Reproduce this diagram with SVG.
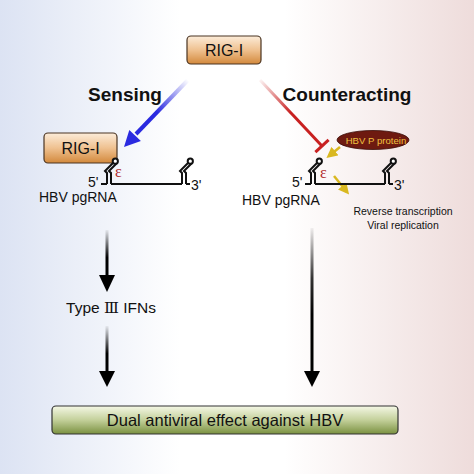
<svg xmlns="http://www.w3.org/2000/svg" width="474" height="474" viewBox="0 0 474 474">
<defs>
<linearGradient id="bg" x1="0" y1="0" x2="1" y2="0">
<stop offset="0" stop-color="#dce3f3"/>
<stop offset="0.38" stop-color="#ffffff"/>
<stop offset="0.6" stop-color="#ffffff"/>
<stop offset="1" stop-color="#eedcdb"/>
</linearGradient>
<linearGradient id="orange" x1="0" y1="0" x2="0" y2="1">
<stop offset="0" stop-color="#fcecd9"/>
<stop offset="0.5" stop-color="#efc190"/>
<stop offset="1" stop-color="#d3893c"/>
</linearGradient>
<linearGradient id="green" x1="0" y1="0" x2="0" y2="1">
<stop offset="0" stop-color="#f5f8e6"/>
<stop offset="0.5" stop-color="#c3d09a"/>
<stop offset="1" stop-color="#7a9140"/>
</linearGradient>
<linearGradient id="gBlue" gradientUnits="userSpaceOnUse" x1="188" y1="80" x2="136" y2="134">
<stop offset="0" stop-color="#2a2ae0" stop-opacity="0"/>
<stop offset="0.6" stop-color="#2a2ae0" stop-opacity="1"/>
</linearGradient>
<linearGradient id="gRed" gradientUnits="userSpaceOnUse" x1="260" y1="80" x2="322" y2="146">
<stop offset="0" stop-color="#c82020" stop-opacity="0.05"/>
<stop offset="0.5" stop-color="#c82020" stop-opacity="1"/>
</linearGradient>
<linearGradient id="gK1" gradientUnits="userSpaceOnUse" x1="0" y1="230" x2="0" y2="276">
<stop offset="0" stop-color="#000" stop-opacity="0.05"/>
<stop offset="0.6" stop-color="#000" stop-opacity="1"/>
</linearGradient>
<linearGradient id="gK2" gradientUnits="userSpaceOnUse" x1="0" y1="326" x2="0" y2="372">
<stop offset="0" stop-color="#000" stop-opacity="0.05"/>
<stop offset="0.6" stop-color="#000" stop-opacity="1"/>
</linearGradient>
<linearGradient id="gK3" gradientUnits="userSpaceOnUse" x1="0" y1="228" x2="0" y2="372">
<stop offset="0" stop-color="#000" stop-opacity="0.05"/>
<stop offset="0.35" stop-color="#000" stop-opacity="0.8"/>
<stop offset="0.6" stop-color="#000" stop-opacity="1"/>
</linearGradient>
<marker id="yHead" viewBox="0 0 10 10" refX="7" refY="5" markerWidth="4.4" markerHeight="4.4" orient="auto" markerUnits="strokeWidth">
<path d="M0,0 L10,5 L0,10 z" fill="#d9b820"/>
</marker>
<g id="stem">
<polyline points="0,0 0,-11 -2,-13 6,-21" fill="none" stroke="#111" stroke-width="2"/>
<polyline points="4,0 4,-11 2,-13 10,-21" fill="none" stroke="#111" stroke-width="2"/>
<circle cx="8.3" cy="-22.8" r="2.6" fill="#fff" stroke="#111" stroke-width="2"/>
</g>
</defs>
<style>
text{font-family:"Liberation Sans",Arial,sans-serif;fill:#111}
.box{stroke:#4a3422;stroke-width:1.2}
.lbl{font-size:16px;text-anchor:middle}
.hd{font-size:19px;font-weight:bold;text-anchor:middle}
.rna{font-size:14px}
.eps{font-family:"Liberation Serif",serif;font-size:16px;fill:#b02828}
.end{font-size:14px}
.line{fill:none;stroke:#111;stroke-width:2}
</style>
<rect x="0" y="0" width="474" height="474" fill="url(#bg)"/>

<g id="connectors">
<line x1="188" y1="80" x2="136" y2="134" stroke="url(#gBlue)" stroke-width="4"/>
<polygon points="124,147 140.9,140.9 129.3,129.9" fill="#2a2ae0"/>
<line x1="260" y1="80" x2="322" y2="146" stroke="url(#gRed)" stroke-width="3"/>
<line x1="315.4" y1="152.2" x2="328.6" y2="139.8" stroke="#c82020" stroke-width="3"/>
<line x1="340" y1="147" x2="329" y2="156" stroke="#d9b820" stroke-width="2.5" marker-end="url(#yHead)"/>
<line x1="334" y1="176" x2="347" y2="192" stroke="#d9b820" stroke-width="2.5" marker-end="url(#yHead)"/>
<line x1="107" y1="230" x2="107" y2="276" stroke="url(#gK1)" stroke-width="3"/>
<polygon points="99,275 115,275 107,292" fill="#000"/>
<line x1="107" y1="326" x2="107" y2="372" stroke="url(#gK2)" stroke-width="3"/>
<polygon points="99,371 115,371 107,387" fill="#000"/>
<line x1="312" y1="228" x2="312" y2="372" stroke="url(#gK3)" stroke-width="3"/>
<polygon points="304,371 320,371 312,387" fill="#000"/>
</g>

<g id="rig-top">
<rect class="box" x="187" y="36" width="74" height="28" rx="4" fill="url(#orange)"/>
<text class="lbl" x="224" y="56">RIG-I</text>
</g>
<g id="sensing"><text class="hd" x="125" y="101">Sensing</text></g>
<g id="counteracting"><text class="hd" x="347" y="101">Counteracting</text></g>

<g id="rig-left">
<rect class="box" x="44" y="133" width="73" height="30" rx="4" fill="url(#orange)"/>
<text class="lbl" x="80.5" y="154">RIG-I</text>
</g>

<g id="rna-left">
<line class="line" x1="101" y1="184" x2="107" y2="184"/>
<use href="#stem" x="107" y="184"/>
<line class="line" x1="111" y1="184" x2="182" y2="184"/>
<use href="#stem" x="182" y="184"/>
<line class="line" x1="186" y1="184" x2="190" y2="184"/>
<text class="end" x="88" y="186.5">5'</text>
<text class="end" x="191" y="190">3'</text>
<text class="eps" x="115" y="177">ε</text>
<text class="rna" x="39" y="202">HBV pgRNA</text>
</g>

<g id="rna-right">
<line class="line" x1="305" y1="184" x2="311" y2="184"/>
<use href="#stem" x="311" y="184"/>
<line class="line" x1="315" y1="184" x2="385" y2="184"/>
<use href="#stem" x="385" y="184"/>
<line class="line" x1="389" y1="184" x2="393" y2="184"/>
<text class="end" x="292" y="187">5'</text>
<text class="end" x="394" y="190">3'</text>
<text class="eps" x="320" y="178">ε</text>
<text class="rna" x="242" y="205">HBV pgRNA</text>
</g>

<g id="hbv-p">
<ellipse cx="373" cy="140" rx="36" ry="9.5" fill="#6e1a10" stroke="#3a0c08" stroke-width="0.8"/>
<text x="376" y="143.5" font-size="9.6" text-anchor="middle" style="fill:#f0c040">HBV P protein</text>
</g>

<g id="replication">
<text x="403" y="215" font-size="10.5" text-anchor="middle">Reverse transcription</text>
<text x="403" y="229" font-size="10.5" text-anchor="middle">Viral replication</text>
</g>

<g id="ifn"><text x="111" y="313" font-size="15.5" text-anchor="middle">Type <tspan style="font-family:'DejaVu Serif',serif">Ⅲ</tspan> IFNs</text></g>

<g id="dual">
<rect x="52" y="406" width="346" height="28" rx="4" fill="url(#green)" stroke="#333" stroke-width="1.2"/>
<text x="225" y="426" font-size="16.5" text-anchor="middle">Dual antiviral effect against HBV</text>
</g>
</svg>
